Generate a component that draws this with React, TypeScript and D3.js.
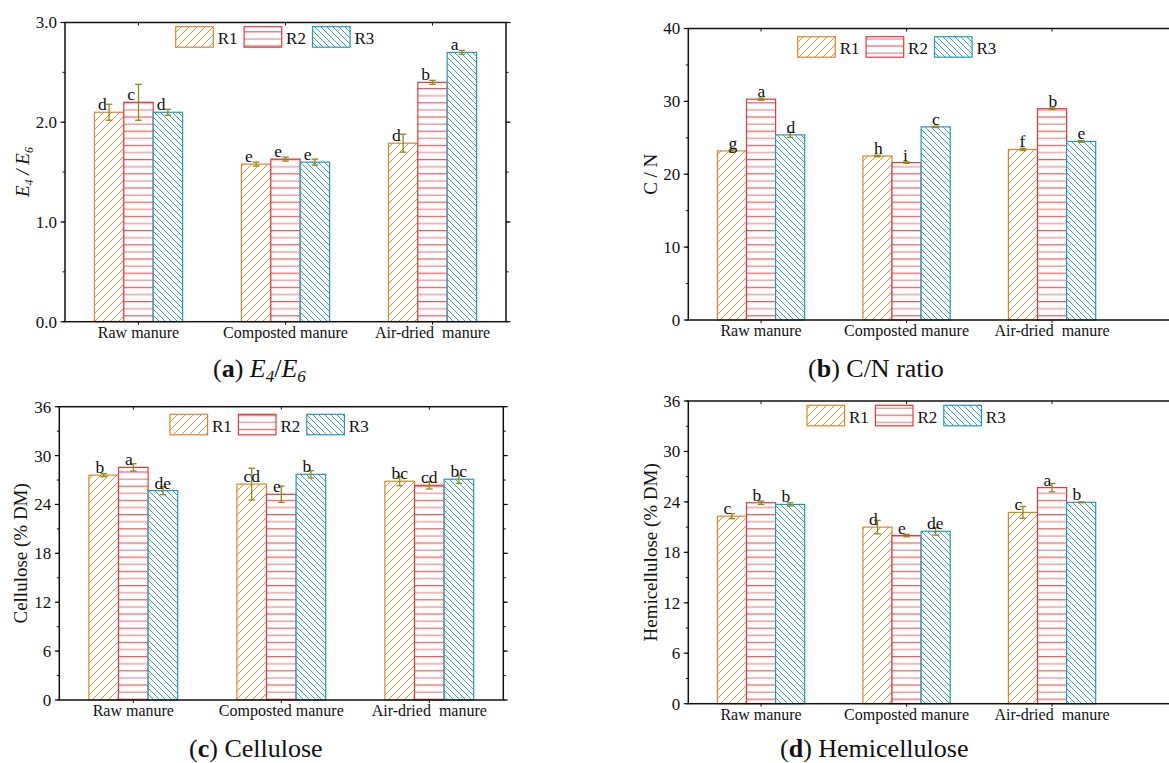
import React, { useLayoutEffect } from "react";
import * as d3 from "d3";

// ---------- data ----------
const categories = ["Raw manure", "Composted manure", "Air-dried  manure"];
const seriesNames = ["R1", "R2", "R3"];

// (a) E4/E6
const e4e6R1 = [2.1, 1.58, 1.79];
const e4e6R2 = [2.2, 1.63, 2.4];
const e4e6R3 = [2.1, 1.6, 2.7];
const e4e6ErrR1 = [0.08, 0.02, 0.09];
const e4e6ErrR2 = [0.18, 0.02, 0.02];
const e4e6ErrR3 = [0.03, 0.03, 0.02];
const e4e6LetR1 = ["d", "e", "d"];
const e4e6LetR2 = ["c", "e", "b"];
const e4e6LetR3 = ["d", "e", "a"];
const e4e6Ticks = [0, 1, 2, 3];

// (b) C/N ratio
const cnR1 = [23.2, 22.5, 23.4];
const cnR2 = [30.3, 21.6, 29.0];
const cnR3 = [25.4, 26.5, 24.5];
const cnErrR1 = [0.15, 0.1, 0.15];
const cnErrR2 = [0.15, 0.1, 0.1];
const cnErrR3 = [0.35, 0.1, 0.1];
const cnLetR1 = ["g", "h", "f"];
const cnLetR2 = ["a", "i", "b"];
const cnLetR3 = ["d", "c", "e"];
const cnTicks = [0, 10, 20, 30, 40];

// (c) Cellulose
const celR1 = [27.6, 26.5, 26.85];
const celR2 = [28.55, 25.25, 26.35];
const celR3 = [25.7, 27.7, 27.1];
const celErrR1 = [0.2, 1.95, 0.55];
const celErrR2 = [0.45, 1.0, 0.45];
const celErrR3 = [0.5, 0.45, 0.5];
const celLetR1 = ["b", "cd", "bc"];
const celLetR2 = ["a", "e", "cd"];
const celLetR3 = ["de", "b", "bc"];
const celTicks = [0, 6, 12, 18, 24, 30, 36];

// (d) Hemicellulose
const hemR1 = [22.3, 21.0, 22.75];
const hemR2 = [23.9, 20.0, 25.7];
const hemR3 = [23.7, 20.5, 23.95];
const hemErrR1 = [0.3, 0.8, 0.7];
const hemErrR2 = [0.2, 0.15, 0.5];
const hemErrR3 = [0.2, 0.45, 0.05];
const hemLetR1 = ["c", "d", "c"];
const hemLetR2 = ["b", "e", "a"];
const hemLetR3 = ["b", "de", "b"];
const hemTicks = [0, 6, 12, 18, 24, 30, 36];

// ---------- style ----------
const FONT = "'Liberation Serif', 'Times New Roman', serif";
const C1 = "#D8882C";
const C2 = "#E8373C";
const C2L = "#F29A9C";
const C3 = "#2299B2";
const ERR = "#8C8C12";
const fills = ["url(#hatchR1)", "url(#hatchR2)", "url(#hatchR3)"];
const strokes = [C1, C2, C3];

type PanelCfg = {
  id: string;
  left: number;
  bandRight: number;
  frameRight: number;
  top: number;
  bottom: number;
  yMax: number;
  ticks: number[];
  minorStep: number;
  fmt: (v: number) => string;
  values: number[][];
  errs: number[][];
  letters: string[][];
  letterDx: number;
  legendX: number;
  legendY: number;
  yLabelX: number;
  yLabel: React.ReactNode;
};

function Panel({ cfg }: { cfg: PanelCfg }) {
  const x = d3.scaleBand<string>().domain(categories).range([cfg.left, cfg.bandRight]).paddingInner(0).paddingOuter(0);
  const y = d3.scaleLinear().domain([0, cfg.yMax]).range([cfg.bottom, cfg.top]);
  const bw = x.bandwidth() * 0.2;
  const inner = d3.scaleBand<string>().domain(seriesNames).range([0, bw * 3]);
  const minor = d3.range(0, cfg.yMax + 1e-9, cfg.minorStep);
  const width = cfg.frameRight - cfg.left;
  return (
    <g>
      {/* bars */}
      {seriesNames.map((s, si) =>
        categories.map((c, ci) => {
          const x0 = (x(c) as number) + x.bandwidth() / 2 - 1.5 * bw + (inner(s) as number);
          const v = cfg.values[si][ci];
          const e = cfg.errs[si][ci];
          const cx = x0 + bw / 2;
          return (
            <g key={s + c}>
              <rect x={x0} y={y(v)} width={bw} height={cfg.bottom - y(v)} fill="white" />
              <rect x={x0} y={y(v)} width={bw} height={cfg.bottom - y(v)} fill={fills[si]} stroke={strokes[si]} strokeWidth={1.2} />
              <line x1={cx} x2={cx} y1={y(v + e)} y2={y(v - e)} stroke={ERR} strokeWidth={1.3} />
              <line x1={cx - 3.3} x2={cx + 3.3} y1={y(v + e)} y2={y(v + e)} stroke={ERR} strokeWidth={1.3} />
              <line x1={cx - 3.3} x2={cx + 3.3} y1={y(v - e)} y2={y(v - e)} stroke={ERR} strokeWidth={1.3} />
              <text x={x0 + cfg.letterDx} y={y(v) - 2} fontSize={17.5} fontFamily={FONT} fill="#111">
                {cfg.letters[si][ci]}
              </text>
            </g>
          );
        })
      )}
      {/* frame */}
      <rect x={cfg.left} y={cfg.top} width={width} height={cfg.bottom - cfg.top} fill="none" stroke="#111" strokeWidth={1.5} />
      {/* y ticks */}
      {minor.map((t) => (
        <g key={"m" + t}>
          <line x1={cfg.left - 2.5} x2={cfg.left} y1={y(t)} y2={y(t)} stroke="#111" strokeWidth={1} />
          <line x1={cfg.frameRight} x2={cfg.frameRight + 2.5} y1={y(t)} y2={y(t)} stroke="#111" strokeWidth={1} />
        </g>
      ))}
      {cfg.ticks.map((t) => (
        <g key={"t" + t}>
          <line x1={cfg.left - 4.5} x2={cfg.left} y1={y(t)} y2={y(t)} stroke="#111" strokeWidth={1.2} />
          <line x1={cfg.frameRight} x2={cfg.frameRight + 4.5} y1={y(t)} y2={y(t)} stroke="#111" strokeWidth={1.2} />
          <text x={cfg.left - 8} y={y(t)} dy="0.35em" textAnchor="end" fontSize={17} fontFamily={FONT} fill="#111">
            {cfg.fmt(t)}
          </text>
        </g>
      ))}
      {/* x ticks/labels */}
      {categories.map((c) => {
        const cx = (x(c) as number) + x.bandwidth() / 2;
        return (
          <g key={"x" + c}>
            <line x1={cx} x2={cx} y1={cfg.top} y2={cfg.top + 3} stroke="#111" strokeWidth={1} />
            <line x1={cx} x2={cx} y1={cfg.bottom} y2={cfg.bottom + 3} stroke="#111" strokeWidth={1} />
            <text x={cx} y={cfg.bottom + 16} textAnchor="middle" fontSize={16} fontFamily={FONT} fill="#111" style={{ whiteSpace: "pre" }}>
              {c}
            </text>
          </g>
        );
      })}
      {/* legend */}
      {seriesNames.map((s, si) => {
        const lx = cfg.legendX + si * 68.4;
        return (
          <g key={"l" + s}>
            <rect x={lx} y={cfg.legendY} width={37.6} height={20.5} fill="white" />
            <rect x={lx} y={cfg.legendY} width={37.6} height={20.5} fill={fills[si]} stroke={strokes[si]} strokeWidth={1.2} />
            <text x={lx + 42} y={cfg.legendY + 17.5} fontSize={17} fontFamily={FONT} fill="#111">
              {s}
            </text>
          </g>
        );
      })}
      {/* y label */}
      <text
        transform={`translate(${cfg.yLabelX},${(cfg.top + cfg.bottom) / 2}) rotate(-90)`}
        textAnchor="middle"
        dy="0.35em"
        fontSize={19}
        fontFamily={FONT}
        fill="#111"
      >
        {cfg.yLabel}
      </text>
    </g>
  );
}

const f1 = d3.format(".1f");
const f0 = d3.format("d");

const panels: PanelCfg[] = [
  {
    id: "a", left: 65, bandRight: 506, frameRight: 506, top: 22.5, bottom: 321.7, yMax: 3,
    ticks: e4e6Ticks, minorStep: 0.5, fmt: f1,
    values: [e4e6R1, e4e6R2, e4e6R3], errs: [e4e6ErrR1, e4e6ErrR2, e4e6ErrR3], letters: [e4e6LetR1, e4e6LetR2, e4e6LetR3],
    letterDx: 3.5, legendX: 175.7, legendY: 26.7, yLabelX: 22,
    yLabel: (
      <tspan fontStyle="italic">
        E<tspan fontSize={12} dy={4}>4</tspan>
        <tspan dy={-4}> / E</tspan>
        <tspan fontSize={12} dy={4}>6</tspan>
      </tspan>
    ),
  },
  {
    id: "b", left: 688.3, bandRight: 1124.8, frameRight: 1180, top: 28.5, bottom: 320, yMax: 40,
    ticks: cnTicks, minorStep: 5, fmt: f0,
    values: [cnR1, cnR2, cnR3], errs: [cnErrR1, cnErrR2, cnErrR3], letters: [cnLetR1, cnLetR2, cnLetR3],
    letterDx: 11, legendX: 797.7, legendY: 36.7, yLabelX: 650, yLabel: "C / N",
  },
  {
    id: "c", left: 59.3, bandRight: 503.3, frameRight: 503.3, top: 406.7, bottom: 700, yMax: 36,
    ticks: celTicks, minorStep: 3, fmt: f0,
    values: [celR1, celR2, celR3], errs: [celErrR1, celErrR2, celErrR3], letters: [celLetR1, celLetR2, celLetR3],
    letterDx: 6.5, legendX: 170, legendY: 414.3, yLabelX: 20, yLabel: "Cellulose (% DM)",
  },
  {
    id: "d", left: 688.3, bandRight: 1124.8, frameRight: 1180, top: 401, bottom: 703.7, yMax: 36,
    ticks: hemTicks, minorStep: 3, fmt: f0,
    values: [hemR1, hemR2, hemR3], errs: [hemErrR1, hemErrR2, hemErrR3], letters: [hemLetR1, hemLetR2, hemLetR3],
    letterDx: 6, legendX: 807, legendY: 405.3, yLabelX: 650, yLabel: "Hemicellulose (% DM)",
  },
];

export default function App() {
  useLayoutEffect(() => {
    document.body.style.margin = "0";
  }, []);
  return (
    <svg width={1169} height={763} style={{ display: "block", background: "white" }}>
      <defs>
        <pattern id="hatchR1" patternUnits="userSpaceOnUse" width={8} height={8}>
          <path d="M-2,2 L2,-2 M0,8 L8,0 M6,10 L10,6" stroke={C1} strokeWidth={0.9} />
        </pattern>
        <pattern id="hatchR2" patternUnits="userSpaceOnUse" width={10} height={14.2}>
          <line x1={0} x2={10} y1={3.5} y2={3.5} stroke={C2} strokeWidth={1} />
          <line x1={0} x2={10} y1={10.6} y2={10.6} stroke={C2L} strokeWidth={1.4} />
        </pattern>
        <pattern id="hatchR3" patternUnits="userSpaceOnUse" width={6} height={6}>
          <path d="M0,0 L6,6 M-1,5 L1,7 M5,-1 L7,1" stroke={C3} strokeWidth={0.9} />
        </pattern>
      </defs>
      <rect width={1169} height={763} fill="white" />
      {panels.map((p) => (
        <Panel key={p.id} cfg={p} />
      ))}
      {/* captions */}
      <text x={213} y={377} fontSize={26} fontFamily={FONT} fill="#111">
        (<tspan fontWeight="bold">a</tspan>){" "}
        <tspan fontStyle="italic">E</tspan>
        <tspan fontStyle="italic" fontSize={17} dy={5}>4</tspan>
        <tspan dy={-5}>/</tspan>
        <tspan fontStyle="italic">E</tspan>
        <tspan fontStyle="italic" fontSize={17} dy={5}>6</tspan>
      </text>
      <text x={808} y={377} fontSize={26} fontFamily={FONT} fill="#111">
        (<tspan fontWeight="bold">b</tspan>) C/N ratio
      </text>
      <text x={189} y={757} fontSize={26} fontFamily={FONT} fill="#111">
        (<tspan fontWeight="bold">c</tspan>) Cellulose
      </text>
      <text x={780} y={757} fontSize={26} fontFamily={FONT} fill="#111">
        (<tspan fontWeight="bold">d</tspan>) Hemicellulose
      </text>
    </svg>
  );
}
